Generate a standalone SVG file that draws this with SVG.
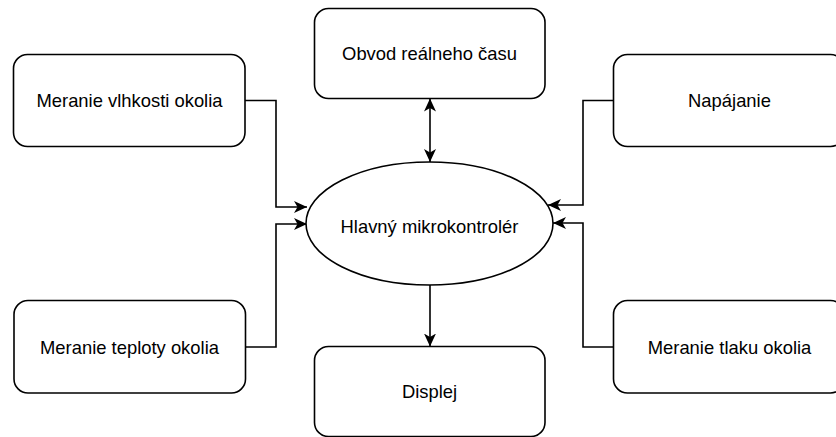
<svg xmlns="http://www.w3.org/2000/svg" width="836" height="437" viewBox="0 0 836 437">
<defs>
<style>
.box{fill:#fff;stroke:#000;stroke-width:1.6}
.lbl{font-family:"Liberation Sans",Arial,Helvetica,sans-serif;font-size:18.4px;fill:#000;text-anchor:middle;dominant-baseline:central}
.edge{fill:none;stroke:#000;stroke-width:1.6}
</style>
<marker id="arr" markerUnits="userSpaceOnUse" markerWidth="14" markerHeight="12" refX="13" refY="6" orient="auto-start-reverse" viewBox="0 0 14 12">
<path d="M0,0 L13,6 L0,12 L3.5,6 Z" fill="#000"/>
</marker>
</defs>
<rect width="836" height="437" fill="#fff"/>
<g id="connectors">
<path class="edge" d="M245,100.5 H276 V207 H307" marker-end="url(#arr)"/>
<path class="edge" d="M245.5,347 H276 V224 H307" marker-end="url(#arr)"/>
<path class="edge" d="M613.5,100.5 H583 V205 H548" marker-end="url(#arr)"/>
<path class="edge" d="M613.5,347 H583 V223 H553" marker-end="url(#arr)"/>
<path class="edge" d="M430,98.5 V162" marker-start="url(#arr)" marker-end="url(#arr)"/>
<path class="edge" d="M430,285 V346.5" marker-end="url(#arr)"/>
</g>
<g id="rtc">
<rect class="box" x="314.5" y="8.5" width="230.5" height="90" rx="14"/>
<text class="lbl" x="429.5" y="53.5">Obvod reálneho času</text>
</g>
<g id="vlhkost">
<rect class="box" x="13.5" y="54.5" width="231.5" height="92" rx="14"/>
<text class="lbl" x="129.5" y="100.5">Meranie vlhkosti okolia</text>
</g>
<g id="teplota">
<rect class="box" x="14" y="300.5" width="231.5" height="92.5" rx="14"/>
<text class="lbl" x="129.5" y="347">Meranie teploty okolia</text>
</g>
<g id="napajanie">
<rect class="box" x="613.5" y="54.5" width="231" height="92" rx="14"/>
<text class="lbl" x="729.5" y="100.5">Napájanie</text>
</g>
<g id="tlak">
<rect class="box" x="613.5" y="300.5" width="231" height="92.5" rx="14"/>
<text class="lbl" x="729.5" y="347">Meranie tlaku okolia</text>
</g>
<g id="displej">
<rect class="box" x="314.5" y="346.5" width="230.5" height="90" rx="14"/>
<text class="lbl" x="429.5" y="391.5">Displej</text>
</g>
<g id="mcu">
<ellipse class="box" cx="429.5" cy="223.5" rx="123.5" ry="61.5"/>
<text class="lbl" x="429.5" y="226">Hlavný mikrokontrolér</text>
</g>
</svg>
